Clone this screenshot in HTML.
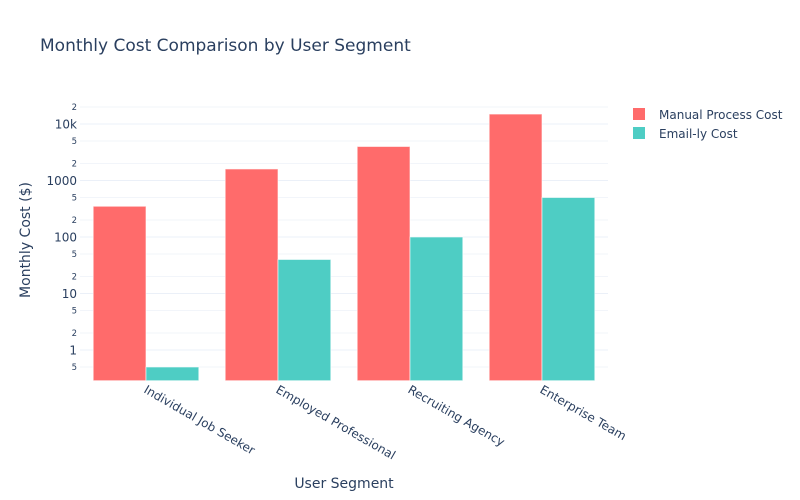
<!DOCTYPE html>
<html><head><meta charset="utf-8"><style>
body{margin:0;background:#fff;}
svg{display:block;font-family:"DejaVu Sans","Liberation Sans",sans-serif;}
</style></head><body>
<svg id="chart" width="800" height="500" xmlns="http://www.w3.org/2000/svg">
<rect width="800" height="500" fill="#fff"/>
<text x="40" y="51" font-size="17" fill="#2a3f5f">Monthly Cost Comparison by User Segment</text>
<g id="grid"></g>
<g id="yticks"></g>
<g id="bars"></g>
<g id="xticks"></g>
<text x="344" y="488" font-size="14" fill="#2a3f5f" text-anchor="middle">User Segment</text>
<text transform="translate(30,240) rotate(-90)" font-size="14" fill="#2a3f5f" text-anchor="middle">Monthly Cost ($)</text>
<g>
<g>
<rect x="633" y="108" width="12" height="12" fill="#FF6B6B"/>
<text x="659" y="119" font-size="12" fill="#2a3f5f">Manual Process Cost</text>
</g>
<g>
<rect x="633" y="127" width="12" height="12" fill="#4ECDC4"/>
<text x="659" y="138" font-size="12" fill="#2a3f5f">Email-ly Cost</text>
</g>
</g>
</svg>
<script>
const categories = ["Individual Job Seeker","Employed Professional","Recruiting Agency","Enterprise Team"];
const manualCost = [350, 1600, 4000, 15000];
const emailCost = [0.5, 40, 100, 500];
const majorTicks = [1, 10, 100, 1000, 10000];
const majorLabels = ["1","10","100","1000","10k"];
const minorTicks = [0.5, 2, 5, 20, 50, 200, 500, 2000, 5000, 20000];
const minorLabels = ["5","2","5","2","5","2","5","2","5","2"];

const NS = "http://www.w3.org/2000/svg";
const L = 80, R = 608, T = 100, B = 380.7;
const logMin = Math.log10(0.286), logMax = Math.log10(26600);
function y(v){ return B - (Math.log10(v) - logMin) / (logMax - logMin) * (B - T); }
const bw = (R - L) / categories.length;
function xc(i){ return L + bw * (i + 0.5); }
function mk(tag, attrs, parent){ const e = document.createElementNS(NS, tag); for (const k in attrs) e.setAttribute(k, attrs[k]); parent.appendChild(e); return e; }

const grid = document.getElementById('grid'), yt = document.getElementById('yticks');
majorTicks.forEach((v, i) => {
  const g = mk('line', {x1:L, x2:R, y1:y(v), y2:y(v), stroke:'#ebf0f8', 'stroke-width':1}, grid);
  
  
  const t = mk('text', {x:77, y:y(v)+4.5, 'font-size':12, fill:'#2a3f5f', 'text-anchor':'end'}, yt);
  t.textContent = majorLabels[i];
  
  
});
minorTicks.forEach((v, i) => {
  const g = mk('line', {x1:L, x2:R, y1:y(v), y2:y(v), stroke:'#f2f5fa', 'stroke-width':1}, grid);
  
  
  const t = mk('text', {x:77, y:y(v)+3, 'font-size':8.5, fill:'#2a3f5f', 'text-anchor':'end'}, yt);
  t.textContent = minorLabels[i];
  
  
});

const bars = document.getElementById('bars'), xt = document.getElementById('xticks');
const barW = bw * 0.8 / 2;
categories.forEach((c, i) => {
  const x0 = xc(i) - barW;
  const b1 = mk('rect', {x:x0, y:y(manualCost[i]), width:barW, height:B - y(manualCost[i]), fill:'#FF6B6B', stroke:'#ffffff', 'stroke-opacity':0.6, 'stroke-width':1}, bars);
  
  
  const b2 = mk('rect', {x:x0 + barW, y:y(emailCost[i]), width:barW, height:B - y(emailCost[i]), fill:'#4ECDC4', stroke:'#ffffff', 'stroke-opacity':0.6, 'stroke-width':1}, bars);
  
  
  const t = mk('text', {transform:'translate(' + (xc(i) - 3) + ',392) rotate(30)', 'font-size':12, fill:'#2a3f5f'}, xt);
  t.textContent = c;
  
  
});
</script>
</body></html>
